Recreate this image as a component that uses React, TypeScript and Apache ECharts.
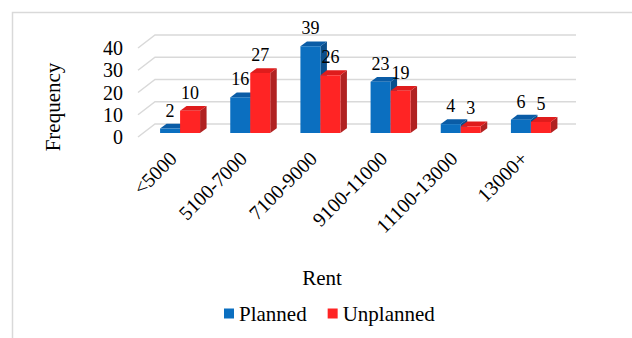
import React, { useEffect, useRef } from "react";
import * as echarts from "echarts";

const categories = ["<5000", "5100-7000", "7100-9000", "9100-11000", "11100-13000", "13000+"];
const planned = [2, 16, 39, 23, 4, 6];
const unplanned = [10, 27, 26, 19, 3, 5];
const yTicks = [0, 10, 20, 30, 40];
const seriesNames = ["Planned", "Unplanned"];

const FONT = "Liberation Serif";

const COLORS = [
  { front: "#0b6fc0", top: "#0a5ca6", side: "#0a4f8c" },
  { front: "#ff2424", top: "#df1c1c", side: "#b02222" },
];

const WALL_DX = 17;
const WALL_DY = -13;
const BAR_DX = 7;
const BAR_DY = -4;
const BAR_DEPTH_DX = 6.5;
const BAR_DEPTH_DY = -4.8;
const BAR_W_FRAC = 0.285;

function makeBarRender(seriesIdx: number) {
  return (params: any, api: any) => {
    const ci = api.value(0);
    const v = api.value(1);
    const top = api.coord([ci, v]);
    const base = api.coord([ci, 0]);
    const band = api.size([1, 0])[0];
    const w = band * BAR_W_FRAC;
    const cx = top[0] + BAR_DX;
    const x0 = seriesIdx === 0 ? cx - w : cx;
    const x1 = x0 + w;
    const yT = top[1] + BAR_DY;
    const yB = base[1] + BAR_DY;
    const c = COLORS[seriesIdx];
    const dx = BAR_DEPTH_DX;
    const dy = BAR_DEPTH_DY;
    return {
      type: "group",
      children: [
        {
          type: "polygon",
          shape: { points: [[x1, yT], [x1 + dx, yT + dy], [x1 + dx, yB + dy], [x1, yB]] },
          style: { fill: c.side },
        },
        {
          type: "polygon",
          shape: { points: [[x0, yT], [x0 + dx, yT + dy], [x1 + dx, yT + dy], [x1, yT]] },
          style: { fill: c.top },
        },
        {
          type: "rect",
          shape: { x: x0, y: yT, width: w, height: yB - yT },
          style: { fill: c.front },
        },
        {
          type: "text",
          x: (x0 + x1) / 2,
          y: yT - 18,
          style: {
            text: String(v),
            fill: "#000",
            fontFamily: FONT,
            fontSize: 18,
            align: "center",
            verticalAlign: "middle",
          },
          z2: 10,
        },
      ],
    };
  };
}

function wallRender(params: any, api: any) {
  const v = api.value(0);
  const p = api.coord([0, v]);
  const band = api.size([1, 0])[0];
  const xl = p[0] - band / 2;
  const xr = xl + band * categories.length;
  return {
    type: "polyline",
    shape: {
      points: [
        [xl, p[1]],
        [xl + WALL_DX, p[1] + WALL_DY],
        [xr + WALL_DX, p[1] + WALL_DY],
      ],
    },
    style: { stroke: "#d9d9d9", lineWidth: 1.5, fill: "none" },
    silent: true,
  };
}

export default function App() {
  const ref = useRef<HTMLDivElement>(null);
  useEffect(() => {
    if (!ref.current) return;
    const chart = echarts.init(ref.current, undefined, { renderer: "svg" });
    chart.setOption({
      animation: false,
      backgroundColor: "#fff",
      textStyle: { fontFamily: FONT },
      grid: { left: 138, right: 73, top: 48, bottom: 201, containLabel: false },
      xAxis: {
        type: "category",
        data: categories,
        axisLine: { show: false },
        axisTick: { show: false },
        axisLabel: {
          rotate: 45,
          margin: 18,
          fontSize: 20,
          color: "#000",
          fontFamily: FONT,
          interval: 0,
        },
      },
      yAxis: {
        type: "value",
        min: 0,
        max: 40,
        interval: 10,
        axisLine: { show: false },
        axisTick: { show: false },
        splitLine: { show: false },
        axisLabel: { margin: 15, fontSize: 20, color: "#000", fontFamily: FONT },
      },
      legend: {
        data: seriesNames.map((n, i) => ({ name: n, icon: "rect", itemStyle: { color: COLORS[i].front } })),
        left: 219,
        top: 298,
        itemWidth: 10,
        itemHeight: 10,
        itemGap: 21,
        textStyle: { fontSize: 21, color: "#000", fontFamily: FONT },
        selectedMode: false,
      },
      graphic: [
        {
          type: "rect",
          shape: { x: 12.5, y: 12.5, width: 640, height: 340 },
          style: { fill: "none", stroke: "#d9d9d9", lineWidth: 1.5 },
          silent: true,
        },
        {
          type: "text",
          x: 53,
          y: 107,
          rotation: Math.PI / 2,
          style: {
            text: "Frequency",
            fontFamily: FONT,
            fontSize: 21,
            fill: "#000",
            align: "center",
            verticalAlign: "middle",
          },
        },
        {
          type: "text",
          x: 322,
          y: 278,
          style: {
            text: "Rent",
            fontFamily: FONT,
            fontSize: 21,
            fill: "#000",
            align: "center",
            verticalAlign: "middle",
          },
        },
      ],
      series: [
        {
          type: "custom",
          name: "wall",
          data: yTicks.map((t) => [t]),
          encode: { y: 0 },
          renderItem: wallRender,
          z: 0,
          silent: true,
        },
        {
          type: "custom",
          name: seriesNames[0],
          data: planned.map((v, i) => [i, v]),
          encode: { x: 0, y: 1 },
          itemStyle: { color: COLORS[0].front },
          renderItem: makeBarRender(0),
          z: 2,
        },
        {
          type: "custom",
          name: seriesNames[1],
          data: unplanned.map((v, i) => [i, v]),
          encode: { x: 0, y: 1 },
          itemStyle: { color: COLORS[1].front },
          renderItem: makeBarRender(1),
          z: 3,
        },
      ],
    });
    return () => chart.dispose();
  }, []);
  return <div ref={ref} style={{ width: 632, height: 338, position: "absolute", left: 0, top: 0 }} />;
}
